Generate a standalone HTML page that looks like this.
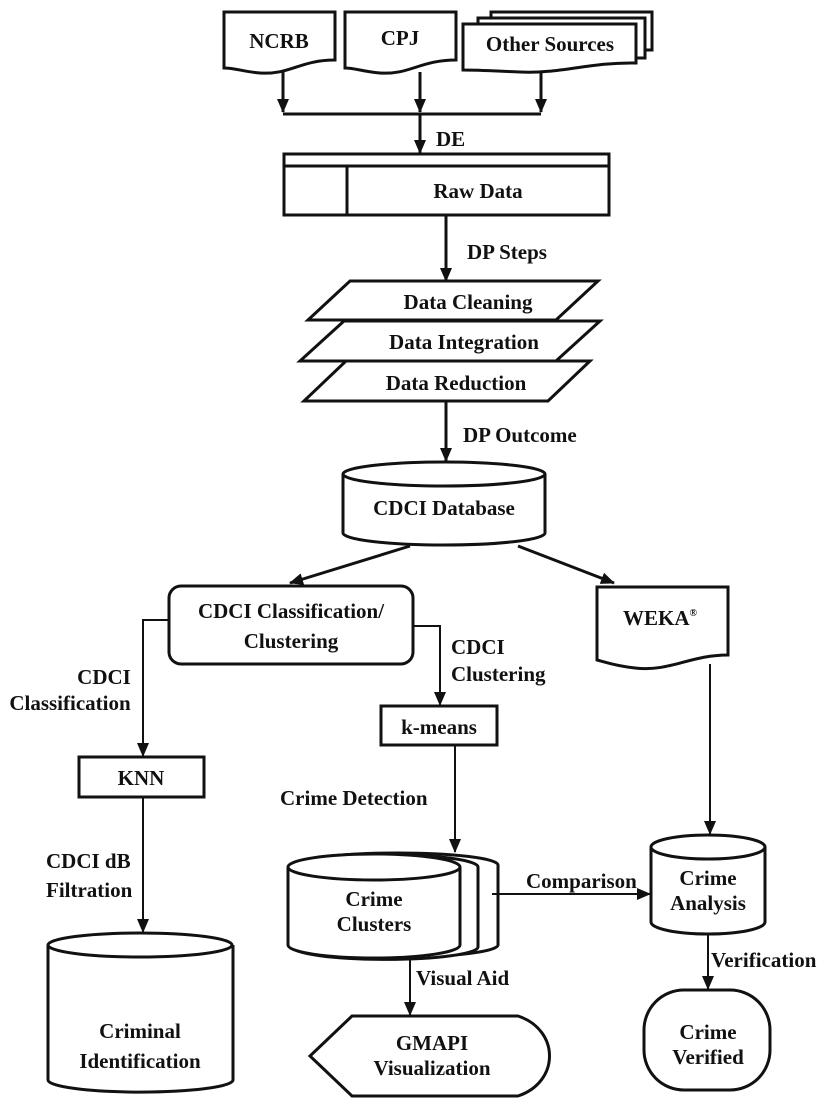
<!DOCTYPE html>
<html><head><meta charset="utf-8"><style>
html,body{margin:0;padding:0;background:#fff;}
svg{display:block}
text{font-family:"Liberation Serif",serif;font-weight:bold;font-size:21px;fill:#111;}
</style></head><body>
<svg width="829" height="1103" viewBox="0 0 829 1103" xmlns="http://www.w3.org/2000/svg">
<defs>
<marker id="a" markerWidth="14" markerHeight="14" refX="13" refY="7" orient="auto" markerUnits="userSpaceOnUse" viewBox="0 0 14 14">
<path d="M0,1 L14,7 L0,13 z" fill="#111"/></marker>
</defs>
<g fill="#fff" stroke="#111" stroke-width="3">
<path d="M224,12 H335 V60 C300,60 290,75 260,73 C245,72 235,68 224,68 Z"/>
<path d="M345,12 H456 V60 C420,60 410,75 380,73 C365,72 355,68 345,68 Z"/>
<path d="M491,12 H652 V50 H491 Z"/>
<path d="M478,18 H645 V58 H478 Z"/>
<path d="M463,24 H636 V63 C590,62 560,74 520,72 C495,71 480,70 463,70 Z"/>
<rect x="284" y="154" width="325" height="61"/>
<path d="M350,281 H598 L556,320 H308 Z"/>
<path d="M344,321 H600 L556,361 H300 Z"/>
<path d="M346,361 H590 L548,401 H304 Z"/>
<path d="M343,474 V533 A101,12 0 0 0 545,533 V474"/>
<ellipse cx="444" cy="474" rx="101" ry="12"/>
<rect x="169" y="586" width="244" height="78" rx="12"/>
<path d="M597,587 H728 V655 C690,655 670,672 635,668 C615,666 605,662 597,660 Z"/>
<rect x="381" y="706" width="116" height="39"/>
<rect x="79" y="757" width="125" height="40"/>
<path d="M298,865 V945 A100,12 0 0 0 498,945 V865 A100,12 0 0 0 298,865 Z"/>
<path d="M293,867 V947 A90,12 0 0 0 478,947 V867 A90,12 0 0 0 293,867 Z"/>
<path d="M288,867 V945 A86,13 0 0 0 460,945 V867"/>
<ellipse cx="374" cy="867" rx="86" ry="13"/>
<path d="M48,945 V1080 A92,12 0 0 0 233,1080 V945"/>
<ellipse cx="140" cy="945" rx="92" ry="12"/>
<path d="M651,847 V922 A57,12 0 0 0 765,922 V847"/>
<ellipse cx="708" cy="847" rx="57" ry="12"/>
<rect x="644" y="990" width="126" height="100" rx="40"/>
<path d="M352,1016 H518 C560,1030 560,1082 518,1096 H352 L310,1056 Z"/>
</g>
<g fill="none" stroke="#111" stroke-width="3">
<line x1="347" y1="166" x2="347" y2="215"/>
<line x1="284" y1="166" x2="609" y2="166"/>
<line x1="283" y1="70" x2="283" y2="112" marker-end="url(#a)"/>
<line x1="420" y1="72" x2="420" y2="112" marker-end="url(#a)"/>
<line x1="541" y1="72" x2="541" y2="112" marker-end="url(#a)"/>
<line x1="283" y1="114" x2="541" y2="114"/>
<line x1="420" y1="114" x2="420" y2="153" marker-end="url(#a)"/>
<line x1="446" y1="215" x2="446" y2="281" marker-end="url(#a)"/>
<line x1="446" y1="401" x2="446" y2="461" marker-end="url(#a)"/>
<line x1="410" y1="546" x2="290" y2="583" marker-end="url(#a)"/>
<line x1="518" y1="546" x2="614" y2="583" marker-end="url(#a)"/>
</g>
<g fill="none" stroke="#111" stroke-width="2">
<polyline points="169,620 143,620 143,756" marker-end="url(#a)"/>
<polyline points="413,626 440,626 440,705" marker-end="url(#a)"/>
<line x1="455" y1="745" x2="455" y2="852" marker-end="url(#a)"/>
<line x1="143" y1="797" x2="143" y2="932" marker-end="url(#a)"/>
<line x1="710" y1="664" x2="710" y2="834" marker-end="url(#a)"/>
<line x1="492" y1="894" x2="650" y2="894" marker-end="url(#a)"/>
<line x1="410" y1="957" x2="410" y2="1015" marker-end="url(#a)"/>
<line x1="708" y1="934" x2="708" y2="989" marker-end="url(#a)"/>
</g>
<g text-anchor="middle">
<text x="279" y="48">NCRB</text>
<text x="400" y="45">CPJ</text>
<text x="550" y="51">Other Sources</text>
<text x="478" y="198">Raw Data</text>
<text x="468" y="309">Data Cleaning</text>
<text x="464" y="349">Data Integration</text>
<text x="456" y="390">Data Reduction</text>
<text x="444" y="515">CDCI Database</text>
<text x="291" y="618">CDCI Classification/</text>
<text x="291" y="648">Clustering</text>
<text x="660" y="625">WEKA<tspan font-size="10" dy="-9">®</tspan></text>
<text x="439" y="734">k-means</text>
<text x="141" y="785">KNN</text>
<text x="374" y="906">Crime</text>
<text x="374" y="931">Clusters</text>
<text x="708" y="885">Crime</text>
<text x="708" y="910">Analysis</text>
<text x="708" y="1039">Crime</text>
<text x="708" y="1064">Verified</text>
<text x="432" y="1050">GMAPI</text>
<text x="432" y="1075">Visualization</text>
<text x="140" y="1038">Criminal</text>
<text x="140" y="1068">Identification</text>
</g>
<g>
<text x="436" y="146">DE</text>
<text x="467" y="259">DP Steps</text>
<text x="463" y="442">DP Outcome</text>
<text x="104" y="684" text-anchor="middle">CDCI</text>
<text x="70" y="710" text-anchor="middle">Classification</text>
<text x="451" y="654">CDCI</text>
<text x="451" y="681">Clustering</text>
<text x="280" y="805">Crime Detection</text>
<text x="46" y="868">CDCI dB</text>
<text x="46" y="897">Filtration</text>
<text x="526" y="888">Comparison</text>
<text x="416" y="985">Visual Aid</text>
<text x="711" y="967">Verification</text>
</g>
</svg>
</body></html>
